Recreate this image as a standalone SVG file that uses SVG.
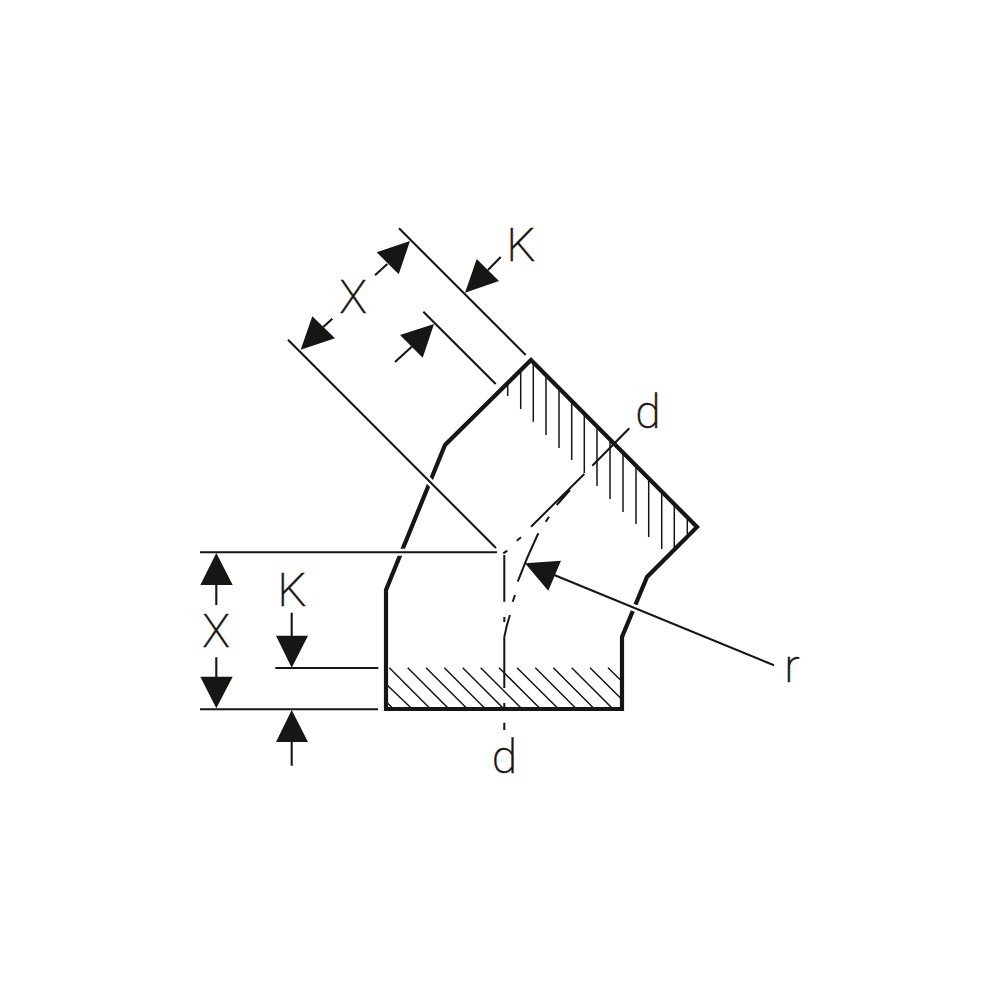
<svg xmlns="http://www.w3.org/2000/svg" width="1000" height="1000" viewBox="0 0 1000 1000">
<style>
.o{fill:none;stroke:#161615;stroke-width:4.2;stroke-linejoin:miter}
.h{fill:none;stroke:#161615;stroke-width:1.5}
.c{fill:none;stroke:#161615;stroke-width:2}
.e{fill:none;stroke:#161615;stroke-width:2.1}
.g{fill:none;stroke:#fff;stroke-width:7}
.a{fill:#161615;stroke:none}
text{font-family:"Roboto","Liberation Sans",sans-serif;font-weight:200;font-size:46px;fill:#161615;stroke:#161615;stroke-width:0.4}
</style>
<rect width="1000" height="1000" fill="#fff"/>
<g id="hatching">
<path class="h" d="M507.7 383V396M520.7 370V409M533.3 362V421.7M546 375V435M559 388V448M571.7 401V460M584.3 413V473M597 426V486M610 439V499M623 452V512M636 465V524M648.7 478V537M661.7 491V549M674.3 503V548M687.3 516V534"/>
<path class="h" d="M389.3 667.7L430 708.5M407.7 667.7L448.5 708.5M426 667.7L467 708.5M444.3 667.7L485 708.5M462.7 667.7L503.5 708.5M480.7 667.7L521.5 708.5M499 667.7L540 708.5M517 667.7L558 708.5M535.3 667.7L576 708.5M553.3 667.7L594 708.5M571.7 667.7L612.5 708.5M590 667.7L621 698.5M608 667.7L621 680.5M387 685L411.7 708.5M387 702.5L393 708.5"/>
</g>
<g id="centerlines">
<path class="c" d="M504.3 555V601.7M504.3 617V622M504.3 637V688M504.3 703V708M504.3 722.7V730M503.3 553.3L507.3 550.7M516.7 540.7L521 537.3M531 526.7L584.3 474M545.7 521.7L549 516.7M556.7 505L570 490M517.7 581.7Q527 557 538.3 533.3M512.7 601.7L515 595M504.3 637Q506.5 625 510 615"/>
</g>
<g id="body">
<path class="o" d="M386 709V590L445 445L531 360L697 527L647 577L622 637V709Z"/>
</g>
<g id="connectors">
<path class="g" d="M426.5 478.5L433.5 485.5M396 552.3H407M628.5 605.5L639.5 610"/>
<path class="e" d="M399 228.3L525.7 355M423.3 311.7L495.7 384M288 339.7L496 548M200 552.3H497M200 709.3H378M275.3 668H378.3M592.3 465.7L629.3 428.3"/>
<path class="e" d="M387.3 264L375 275.3M323.3 327L332.3 318.7M488 270L500.7 257M411.7 346.7L395 362M216.3 585V605M216.3 657.3V677M291.7 612.7V636M291.7 742V765.7M553 574.5L774 665.3"/>
<path class="a" d="M410 241L376.7 252.3L398.7 274.3ZM300.7 349.7L312.3 316.3L335 338.3ZM465 292.7L476.7 259L499 281ZM434 324L400 335L422.7 357.7ZM216.3 553L200.3 585H232.7ZM216.3 708.3L200.3 676.7H232.7ZM291.7 667.7L276 635.7H308ZM291.7 710L276 742H308ZM525 563.3L561 560.7L548.3 590.7Z"/>
</g>
<g id="labels">
<text x="216" y="647" text-anchor="middle">X</text>
<text x="292" y="606" text-anchor="middle">K</text>
<text x="353" y="313" text-anchor="middle">X</text>
<text x="521" y="261" text-anchor="middle">K</text>
<text x="648" y="428" text-anchor="middle">d</text>
<text x="504.5" y="773" text-anchor="middle">d</text>
<text x="792" y="682" text-anchor="middle">r</text>
</g>
</svg>
